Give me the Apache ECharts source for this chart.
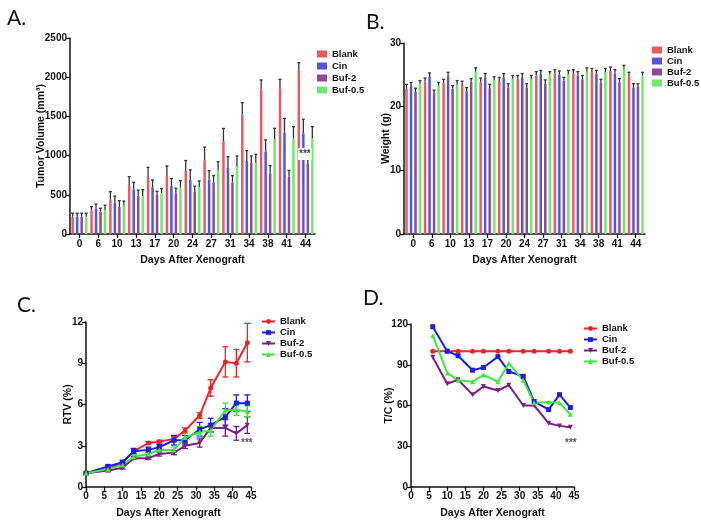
<!DOCTYPE html>
<html><head><meta charset="utf-8">
<script src="https://cdn.jsdelivr.net/npm/echarts@6/dist/echarts.min.js"></script>
<style>html,body{margin:0;padding:0;background:#fff}#c{width:701px;height:520px}</style>
</head><body><div id="c"></div>
<script>
const groups = ['Blank', 'Cin', 'Buf-2', 'Buf-0.5'];
const barDays = ['0','6','10','13','17','20','24','27','31','34','38','41','44'];

// A: tumor volume (mm3)
const volBlank = [220,295,440,620,725,740,805,940,1186,1527,1845,1858,2079];
const volBlankErr = [45,55,100,112,125,128,132,168,160,148,120,115,106];
const volCin = [220,325,398,570,595,615,688,697,850,931,1050,1290,1284];
const volCinErr = [45,58,85,90,95,93,130,110,136,132,150,184,180];
const volBuf2 = [220,284,345,490,500,518,540,655,655,910,774,731,893];
const volBuf2Err = [45,45,80,70,45,65,70,90,90,85,97,80,60];
const volBuf05 = [220,305,365,485,520,590,595,807,867,910,1207,1220,1220];
const volBuf05Err = [45,62,55,80,60,92,82,115,128,106,141,149,149];

// B: weight (g)
const wBlank = [22.8,23.9,23.7,23.4,23.9,24.0,24.4,24.9,25.2,25.2,25.4,25.6,24.8];
const wBlankErr = [0.7,0.6,0.6,0.6,0.6,0.6,0.5,0.6,0.6,0.6,0.6,0.6,0.6];
const wCin = [23.1,24.7,24.8,22.4,24.6,24.6,24.6,25.1,25.0,24.9,25.2,25.2,23.0];
const wCinErr = [0.7,0.6,0.6,0.6,0.6,0.6,0.6,0.6,0.6,0.6,0.5,0.6,0.6];
const wBuf2 = [22.3,22.1,22.8,23.9,22.9,23.0,23.0,23.6,24.1,24.3,23.8,23.8,23.1];
const wBuf2Err = [0.6,0.5,0.5,0.5,0.6,0.6,0.6,0.6,0.5,0.6,0.5,0.6,0.5];
const wBuf05 = [23.6,23.3,23.5,25.5,24.2,24.4,24.4,25.0,25.1,25.5,25.4,26.0,24.9];
const wBuf05Err = [0.5,0.5,0.6,0.6,0.5,0.5,0.5,0.5,0.6,0.6,0.6,0.5,0.5];

// C: RTV
const rtvDays = [0,6,10,13,17,20,24,27,31,34,38,41,44];
const rtvBlank = [1.0,1.3,1.8,2.6,3.2,3.3,3.5,4.1,5.2,7.2,9.1,9.0,10.5];
const rtvBlankErr = [0.05,0.1,0.15,0.2,0.1,0.1,0.15,0.2,0.2,0.6,1.1,1.0,1.4];
const rtvCin = [1.0,1.5,1.8,2.6,2.7,2.9,3.4,3.4,4.2,4.5,5.1,6.1,6.1];
const rtvCinErr = [0.05,0.1,0.1,0.2,0.2,0.2,0.35,0.35,0.5,0.5,0.6,0.6,0.6];
const rtvBuf2 = [1.0,1.2,1.4,2.1,2.1,2.4,2.5,3.0,3.2,4.3,4.3,3.9,4.5];
const rtvBuf2Err = [0.05,0.1,0.1,0.1,0.1,0.15,0.15,0.2,0.3,0.3,0.6,0.5,0.6];
const rtvBuf05 = [1.0,1.3,1.6,2.2,2.4,2.7,2.7,3.6,4.0,4.1,5.6,5.6,5.5];
const rtvBuf05Err = [0.05,0.1,0.1,0.15,0.15,0.2,0.2,0.3,0.4,0.4,0.5,0.4,0.4];

// D: T/C (%)
const tcDays = [6,10,13,17,20,24,27,31,34,38,41,44];
const tcBlank = [100,100,100,100,100,100,100,100,100,100,100,100];
const tcCin = [118,100,96.6,86,88,96,85,81.5,63,57,68,58.5];
const tcBuf2 = [95.5,76,79,68,74,71,75,60,60,47,45,44];
const tcBuf05 = [111.5,84,78.5,77.5,82.5,77.5,91,78.5,62,62.5,62,53.5];

const colors = ['#ec2227', '#1d1de0', '#7c1f86', '#3ee83e'];
const barColors = ['#ea5a5e', '#5454dc', '#8e4a96', '#6fe86f'];
const FONT = '"Liberation Sans", Arial, sans-serif';

const chart = echarts.init(document.getElementById('c'));

const BW = 2.5, SP = 4.5;
function barSeries(name, gi, pos, vals) {
  return {
    type: 'bar', name: name, xAxisIndex: gi, yAxisIndex: gi,
    data: vals, barWidth: BW, barGap: '80%',
    itemStyle: { color: barColors[pos] }, silent: true
  };
}
function barErr(gi, pos, vals, errs, capHalf) {
  return {
    type: 'custom', name: 'err' + gi + '_' + pos, xAxisIndex: gi, yAxisIndex: gi,
    data: vals.map((v, i) => [i, v, v + errs[i]]),
    encode: { x: 0, y: [1, 2] }, silent: true, z: 3,
    renderItem: function (params, api) {
      const b = api.coord([api.value(0), api.value(1)]);
      const t = api.coord([api.value(0), api.value(2)]);
      const x = b[0] + (pos - 1.5) * SP;
      const st = { stroke: '#333', lineWidth: 1.3 };
      return { type: 'group', children: [
        { type: 'line', shape: { x1: x, y1: b[1], x2: x, y2: t[1] }, style: st },
        { type: 'line', shape: { x1: x - capHalf, y1: t[1], x2: x + capHalf, y2: t[1] }, style: st }
      ]};
    }
  };
}
function lineErr(gi, pos, xs, vals, errs) {
  return {
    type: 'custom', name: 'lerr' + pos, xAxisIndex: gi, yAxisIndex: gi,
    data: vals.map((v, i) => [xs[i], v - errs[i], v + errs[i]]),
    encode: { x: 0, y: [1, 2] }, silent: true, z: 1,
    renderItem: function (params, api) {
      const lo = api.coord([api.value(0), api.value(1)]);
      const hi = api.coord([api.value(0), api.value(2)]);
      const x = lo[0];
      const st = { stroke: colors[pos], lineWidth: 1.3 };
      return { type: 'group', children: [
        { type: 'line', shape: { x1: x, y1: lo[1], x2: x, y2: hi[1] }, style: st },
        { type: 'line', shape: { x1: x - 3, y1: lo[1], x2: x + 3, y2: lo[1] }, style: st },
        { type: 'line', shape: { x1: x - 3, y1: hi[1], x2: x + 3, y2: hi[1] }, style: st }
      ]};
    }
  };
}
const symbols = ['circle', 'rect', 'triangle', 'triangle'];
const symRot = [0, 0, 180, 0];
function lineSeries(name, gi, pos, xs, vals) {
  return {
    type: 'line', name: name, xAxisIndex: gi, yAxisIndex: gi,
    data: vals.map((v, i) => [xs[i], v]),
    symbol: symbols[pos], symbolRotate: symRot[pos], symbolSize: 5,
    lineStyle: { color: colors[pos], width: 2 },
    itemStyle: { color: colors[pos] }, z: 2, silent: true
  };
}

const axisLine = { show: true, lineStyle: { color: '#111', width: 1.5 } };
const axisTick = { show: true, length: 4, lineStyle: { color: '#111', width: 1.3 } };
const lbl = { color: '#111', fontFamily: FONT, fontWeight: 'bold', fontSize: 10 };
const nameStyle = { color: '#111', fontFamily: FONT, fontWeight: 'bold', fontSize: 10.5 };

function catAxis(gi) {
  return { type: 'category', gridIndex: gi, data: barDays, boundaryGap: true,
    axisLine: axisLine, axisTick: Object.assign({ alignWithLabel: true }, axisTick),
    axisLabel: Object.assign({ margin: 5, interval: 0 }, lbl),
    name: 'Days After Xenograft', nameLocation: 'middle', nameGap: 21, nameMoveOverlap: false,
    nameTextStyle: nameStyle };
}
function valXAxis(gi) {
  return { type: 'value', gridIndex: gi, min: 0, max: 45, interval: 5,
    axisLine: axisLine, axisTick: axisTick, splitLine: { show: false },
    axisLabel: Object.assign({ margin: 4 }, lbl),
    name: 'Days After Xenograft', nameLocation: 'middle', nameGap: 21, nameMoveOverlap: false,
    nameTextStyle: nameStyle };
}
function valYAxis(gi, max, interval, name, gap) {
  return { type: 'value', gridIndex: gi, min: 0, max: max, interval: interval,
    axisLine: axisLine, axisTick: axisTick, splitLine: { show: false },
    axisLabel: Object.assign({ margin: 3, formatter: v => String(v) }, lbl),
    name: name, nameLocation: 'middle', nameGap: gap, nameMoveOverlap: false,
    nameTextStyle: nameStyle };
}

const legendText = { color: '#111', fontFamily: FONT, fontWeight: 'bold', fontSize: 9.5 };
function fmtName(n) { return n.split('|')[0]; }

const series = [];
const volVals = [volBlank, volCin, volBuf2, volBuf05];
const volErrs = [volBlankErr, volCinErr, volBuf2Err, volBuf05Err];
const wVals = [wBlank, wCin, wBuf2, wBuf05];
const wErrs = [wBlankErr, wCinErr, wBuf2Err, wBuf05Err];
const rtvVals = [rtvBlank, rtvCin, rtvBuf2, rtvBuf05];
const rtvErrs = [rtvBlankErr, rtvCinErr, rtvBuf2Err, rtvBuf05Err];
const tcVals = [tcBlank, tcCin, tcBuf2, tcBuf05];

groups.forEach((g, p) => series.push(barSeries(g + '|A', 0, p, volVals[p])));
groups.forEach((g, p) => series.push(barErr(0, p, volVals[p], volErrs[p], 1.5)));
groups.forEach((g, p) => series.push(barSeries(g + '|B', 1, p, wVals[p])));
groups.forEach((g, p) => series.push(barErr(1, p, wVals[p], wErrs[p], 1.5)));
groups.forEach((g, p) => series.push(lineErr(2, p, rtvDays, rtvVals[p], rtvErrs[p])));
groups.forEach((g, p) => series.push(lineSeries(g + '|C', 2, p, rtvDays, rtvVals[p])));
groups.forEach((g, p) => series.push(lineSeries(g + '|D', 3, p, tcDays, tcVals[p])));

function barLegend(suffix, left, top, gap) {
  return { orient: 'vertical', left: left, top: top, padding: 0, itemWidth: 10, itemHeight: 7, itemGap: gap,
    icon: 'rect', textStyle: legendText, formatter: fmtName, selectedMode: false,
    data: groups.map(g => g + suffix) };
}
function lineLegend(suffix, left, top) {
  return { orient: 'vertical', left: left, top: top, padding: 0, itemWidth: 13, itemHeight: 6, itemGap: 1,
    textStyle: legendText, formatter: fmtName, selectedMode: false,
    data: groups.map(g => g + suffix) };
}

const titleStyle = { color: '#111', fontFamily: 'Lato, "Open Sans", sans-serif', fontWeight: 'normal', fontSize: 21 };

chart.setOption({
  animation: false,
  backgroundColor: '#fff',
  textStyle: { fontFamily: FONT },
  title: [
    { text: 'A.', left: 2, top: 3, textStyle: titleStyle },
    { text: 'B.', left: 361, top: 7, textStyle: titleStyle },
    { text: 'C.', left: 12, top: 290, textStyle: titleStyle },
    { text: 'D.', left: 358, top: 283, textStyle: titleStyle }
  ],
  legend: [
    barLegend('|A', 317, 49, 2),
    barLegend('|B', 652, 45, 1),
    lineLegend('|C', 261, 316.5),
    lineLegend('|D', 583, 323.5)
  ],
  grid: [
    { left: 70, top: 38, width: 245, height: 196 },
    { left: 404, top: 43, width: 241, height: 191 },
    { left: 86, top: 322, width: 165, height: 165 },
    { left: 411, top: 324, width: 163, height: 166 }
  ],
  xAxis: [catAxis(0), catAxis(1), valXAxis(2), valXAxis(3)],
  yAxis: [
    valYAxis(0, 2500, 500, 'Tumor Volume (mm\u00B3)', 23),
    valYAxis(1, 30, 10, 'Weight (g)', 12),
    valYAxis(2, 12, 3, 'RTV (%)', 12),
    valYAxis(3, 120, 30, 'T/C (%)', 16)
  ],
  graphic: [
    { type: 'text', left: 298, top: 148, z: 10,
      style: { text: '***', fill: '#444', font: 'bold 10px ' + FONT, backgroundColor: '#fff', padding: [1, 1] } },
    { type: 'text', left: 241, top: 438, style: { text: '***', fill: '#555', font: 'bold 10px ' + FONT } },
    { type: 'text', left: 565, top: 438, style: { text: '***', fill: '#555', font: 'bold 10px ' + FONT } }
  ],
  series: series
});
</script></body></html>
